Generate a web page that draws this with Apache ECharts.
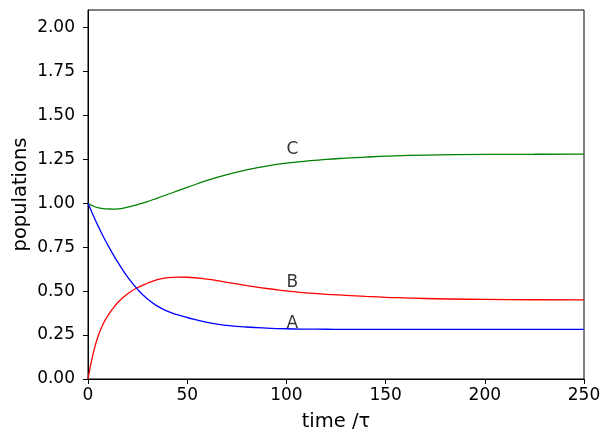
<!DOCTYPE html>
<html>
<head>
<meta charset="utf-8">
<script src="https://cdn.jsdelivr.net/npm/echarts@6/dist/echarts.min.js"></script>
<style>html,body{margin:0;padding:0;background:#fff}#c{width:612px;height:444px}</style>
</head>
<body>
<div id="c"></div>
<script>
// time values (tau)
var times = [0, 2.5, 5, 7.5, 10, 12.5, 15, 20, 25, 30, 35, 40, 45, 50, 60, 70, 80, 90, 100, 110, 120, 130, 140, 150, 170, 200, 225, 250];
// populations
var popA = [1.0, 0.935, 0.873, 0.815, 0.762, 0.712, 0.665, 0.58, 0.51, 0.455, 0.415, 0.386, 0.366, 0.35, 0.322, 0.305, 0.296, 0.290, 0.286, 0.284, 0.283, 0.282, 0.282, 0.282, 0.282, 0.282, 0.282, 0.282];
var popB = [0.0, 0.14, 0.24, 0.31, 0.36, 0.40, 0.435, 0.485, 0.52, 0.545, 0.565, 0.576, 0.580, 0.579, 0.568, 0.550, 0.532, 0.515, 0.502, 0.490, 0.482, 0.476, 0.470, 0.465, 0.458, 0.453, 0.451, 0.450];
var popC = [1.0, 0.985, 0.975, 0.97, 0.968, 0.967, 0.968, 0.978, 0.993, 1.01, 1.03, 1.05, 1.07, 1.09, 1.13, 1.163, 1.19, 1.212, 1.228, 1.24, 1.25, 1.257, 1.263, 1.268, 1.274, 1.278, 1.279, 1.28];
var yTicks = [0, 0.25, 0.5, 0.75, 1.0, 1.25, 1.5, 1.75, 2.0];
var xTicks = [0, 50, 100, 150, 200, 250];
var labelNames = ['A', 'B', 'C'];
var labelTimes = [100, 100, 100];
var labelVals = [0.29, 0.525, 1.28];

function pairs(ys) { return times.map(function (t, i) { return [t, ys[i]]; }); }
var font = 'DejaVu Sans';
var chart = echarts.init(document.getElementById('c'), null, {renderer: 'canvas'});
chart.setOption({
  animation: false,
  backgroundColor: '#fff',
  grid: {left: 88, right: 28, top: 10, bottom: 65, show: true, borderColor: '#000', borderWidth: 1, backgroundColor: 'transparent', containLabel: false, outerBoundsMode: 'none'},
  xAxis: {
    type: 'value', min: 0, max: 250, interval: 50,
    name: 'time /τ', nameLocation: 'middle', nameGap: 33, nameMoveOverlap: false,
    nameTextStyle: {fontFamily: font, fontSize: 19.5, color: '#000'},
    axisLine: {show: true, lineStyle: {color: '#000', width: 1}},
    axisTick: {show: true, length: 5, inside: false, lineStyle: {color: '#000', width: 1}, customValues: xTicks},
    axisLabel: {fontFamily: font, fontSize: 17, color: '#000', margin: 8, customValues: xTicks, formatter: function (v) { return String(Math.round(v)); }},
    splitLine: {show: false}
  },
  yAxis: {
    type: 'value', min: 0, max: 2.1,
    name: 'populations', nameLocation: 'middle', nameGap: 57, nameRotate: 90, nameMoveOverlap: false,
    nameTextStyle: {fontFamily: font, fontSize: 19.5, color: '#000'},
    axisLine: {show: true, lineStyle: {color: '#000', width: 1}},
    axisTick: {show: true, length: 5, inside: false, lineStyle: {color: '#000', width: 1}, customValues: yTicks},
    axisLabel: {fontFamily: font, fontSize: 17, color: '#000', margin: 13, customValues: yTicks, formatter: function (v) { return v.toFixed(2); }},
    splitLine: {show: false}
  },
  series: [
    {type: 'line', name: 'A', data: pairs(popA), showSymbol: false, smooth: 0.5, lineStyle: {color: '#0000ff', width: 1.3}, itemStyle: {color: '#0000ff'}, z: 3},
    {type: 'line', name: 'B', data: pairs(popB), showSymbol: false, smooth: 0.5, lineStyle: {color: '#ff0000', width: 1.3}, itemStyle: {color: '#ff0000'}, z: 2},
    {type: 'line', name: 'C', data: pairs(popC), showSymbol: false, smooth: 0.5, lineStyle: {color: '#008000', width: 1.3}, itemStyle: {color: '#008000'}, z: 2},
    {type: 'scatter', symbolSize: 0, silent: true, z: 5,
      data: labelNames.map(function (n, i) { return {value: [labelTimes[i], labelVals[i]], name: n}; }),
      label: {show: true, position: [0, 0], offset: [0, 4], align: 'left', verticalAlign: 'bottom', formatter: '{b}', fontFamily: font, fontSize: 17, color: '#000'}
    }
  ]
});
</script>
</body>
</html>
